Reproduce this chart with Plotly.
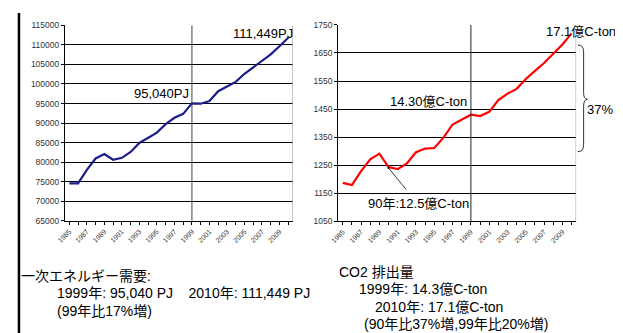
import plotly.graph_objects as go

W, H = 623, 333

years = list(range(1985, 2011))
energy_pj = [74600, 74600, 78050, 80950, 82100, 80620, 81120, 82600, 84920, 86320,
             87560, 89710, 91360, 92360, 95040, 94950, 95660, 98140, 99300, 100540,
             102600, 104260, 105740, 107560, 109630, 111800]
co2_mt = [1187, 1179, 1229, 1271, 1291, 1243, 1236, 1256, 1296, 1309,
          1311, 1348, 1395, 1413, 1430, 1425, 1440, 1482, 1505, 1522,
          1557, 1586, 1614, 1647, 1680, 1720]
tick_labels = [str(y) if (y - 1985) % 2 == 0 else "" for y in years]
energy_ticks = [65000, 70000, 75000, 80000, 85000, 90000, 95000, 100000, 105000, 110000, 115000]
co2_ticks = [1050, 1150, 1250, 1350, 1450, 1550, 1650, 1750]

FONT = "Liberation Sans, Arial, Noto Sans CJK JP"

def px(x):
    return x / W

def py(y):
    return 1 - y / H

fig = go.Figure()
fig.add_trace(go.Scatter(x=years, y=energy_pj, mode="lines",
                         line=dict(color="#1c1c8a", width=2.2), xaxis="x", yaxis="y",
                         showlegend=False, hoverinfo="skip"))
fig.add_trace(go.Scatter(x=years, y=co2_mt, mode="lines",
                         line=dict(color="#ff0000", width=2.2), xaxis="x2", yaxis="y2",
                         showlegend=False, hoverinfo="skip"))

xcommon = dict(range=[1984.5, 2010.5], tickmode="array", tickvals=years, ticktext=tick_labels,
               tickangle=-45, tickfont=dict(size=7, color="#333", family=FONT),
               ticks="outside", ticklen=3, tickcolor="#000", showline=True, linecolor="#000",
               linewidth=1, showgrid=False, zeroline=False, fixedrange=True)
ycommon = dict(ticks="outside", ticklen=3, tickcolor="#000", showline=True, linecolor="#000",
               linewidth=1, showgrid=True, gridcolor="#000", gridwidth=1, zeroline=False,
               tickmode="array", tickfont=dict(size=8.5, color="#333", family=FONT), fixedrange=True)

fig.update_layout(
    width=W, height=H, margin=dict(l=0, r=0, t=0, b=0),
    paper_bgcolor="white", plot_bgcolor="white",
    font=dict(family=FONT, color="#000"),
    xaxis=dict(domain=[0.0796, 0.4498], anchor="y", **xcommon),
    yaxis=dict(domain=[0.3565, 0.9619], anchor="x", range=[65000, 115000],
               tickvals=energy_ticks, ticktext=[str(v) for v in energy_ticks], **ycommon),
    xaxis2=dict(domain=[0.5239, 0.9108], anchor="y2", **xcommon),
    yaxis2=dict(domain=[0.3553, 0.9631], anchor="x2", range=[1050, 1750],
                tickvals=co2_ticks, ticktext=[str(v) for v in co2_ticks], **ycommon),
)

shapes = []
# vertical marker lines at 1999
shapes.append(dict(type="line", xref="x", yref="y", x0=1999, x1=1999, y0=65000, y1=115000,
                   line=dict(color="#444", width=1)))
shapes.append(dict(type="line", xref="x2", yref="y2", x0=1999, x1=1999, y0=1050, y1=1750,
                   line=dict(color="#222", width=1)))
# gray right borders of plot areas
shapes.append(dict(type="line", xref="x", yref="y", x0=2010.5, x1=2010.5, y0=65000, y1=115000,
                   line=dict(color="#999", width=1)))
shapes.append(dict(type="line", xref="x2", yref="y2", x0=2010.5, x1=2010.5, y0=1050, y1=1750,
                   line=dict(color="#999", width=1)))
# brace
bx0, bx1, btip = 569, 575, 579
by0, bmid, by1 = 33, 89, 143
path = (f"M {px(bx0)},{py(by0)} Q {px(bx1)},{py(by0)} {px(bx1)},{py(by0+7)} "
        f"L {px(bx1)},{py(bmid-7)} Q {px(bx1)},{py(bmid)} {px(btip)},{py(bmid)} "
        f"Q {px(bx1)},{py(bmid)} {px(bx1)},{py(bmid+7)} "
        f"L {px(bx1)},{py(by1-7)} Q {px(bx1)},{py(by1)} {px(bx0)},{py(by1)}")
shapes.append(dict(type="path", xref="paper", yref="paper", path=path,
                   line=dict(color="#333", width=1)))
# outer frame
shapes.append(dict(type="line", xref="paper", yref="paper", x0=px(3), x1=px(3), y0=py(0), y1=py(331),
                   line=dict(color="#000", width=2.5)))
shapes.append(dict(type="line", xref="paper", yref="paper", x0=px(612), x1=px(612), y0=py(0), y1=py(331),
                   line=dict(color="#000", width=2)))
shapes.append(dict(type="line", xref="paper", yref="paper", x0=px(3), x1=px(612), y0=py(331), y1=py(331),
                   line=dict(color="#333", width=1.5)))
fig.update_layout(shapes=shapes)

ann = []
tf = dict(size=13, color="#000", family=FONT)
ann.append(dict(x=1999, y=95040, xref="x", yref="y", text="95,040PJ", showarrow=False,
                xanchor="right", yanchor="bottom", xshift=-1, yshift=0, font=tf))
ann.append(dict(x=2010, y=111449, xref="x", yref="y", text="111,449PJ", showarrow=False,
                xanchor="right", yanchor="middle", xshift=7, yshift=6, font=tf))
ann.append(dict(x=1999, y=1430, xref="x2", yref="y2", text="14.30億C-ton", showarrow=False,
                xanchor="right", yanchor="bottom", xshift=-2, yshift=4, font=tf))
ann.append(dict(x=2010, y=1710, xref="x2", yref="y2", text="17.1億C-ton", showarrow=False,
                xanchor="center", yanchor="middle", xshift=9, yshift=5, font=tf))
ann.append(dict(x=1993.3, y=1112, xref="x2", yref="y2", text="90年:12.5億C-ton", showarrow=False,
                xanchor="center", yanchor="middle", font=tf))
ann.append(dict(x=1990, y=1240, xref="x2", yref="y2", ax=1992.05, ay=1158, axref="x2", ayref="y2",
                text="", showarrow=True, arrowhead=6, arrowsize=0.6, arrowwidth=0.8,
                arrowcolor="#000"))
ann.append(dict(x=px(592), y=py(100), xref="paper", yref="paper", text="37%", showarrow=False,
                xanchor="center", yanchor="middle", font=tf))

bf = dict(size=14, color="#000", family=FONT)
bottom = [
    ("一次エネルギー需要:", 3, 271),
    ("1999年: 95,040 PJ    2010年: 111,449 PJ", 40, 289),
    ("(99年比17%増)", 40, 307),
    ("CO2 排出量", 325, 267),
    ("1999年: 14.3億C-ton", 345, 285),
    ("2010年: 17.1億C-ton", 362, 303),
    ("(90年比37%増,99年比20%増)", 350, 321),
]
for text, x, y in bottom:
    ann.append(dict(x=px(x), y=py(y), xref="paper", yref="paper", text=text, showarrow=False,
                    xanchor="left", yanchor="middle", font=bf))
fig.update_layout(annotations=ann)

fig.write_html("out.html")
